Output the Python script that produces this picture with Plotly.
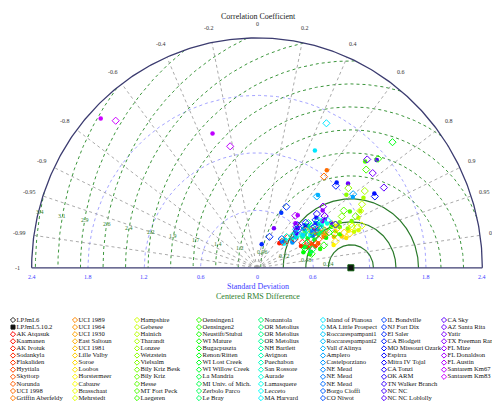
import colorsys
import numpy as np
import plotly.graph_objects as go

sites = ["AK Atqasuk", "Kaamanen", "AK Ivotuk", "Sodankyla", "Flakaliden", "Hyytiala", "Skyttorp", "Norunda",
         "UCI 1998", "Griffin Aberfeldy",
         "UCI 1989", "UCI 1964", "UCI 1930", "East Saltoun", "UCI 1981", "Lille Valby", "Soroe", "Loobos",
         "Horstermeer", "Cabauw", "Brasschaat", "Mehrstedt",
         "Hampshire", "Gebesee", "Hainich", "Tharandt", "Lonzee", "Wetzstein", "Vielsalm", "Bily Kriz Besk",
         "Bily Kriz", "Hesse", "MT Fort Peck", "Laegeren",
         "Oensingen1", "Oensingen2", "Neustift/Stubai", "WI Mature", "Bugacpuszta", "Renon/Ritten", "WI Lost Creek",
         "WI Willow Creek", "La Mandria", "MI Univ. of Mich.", "Zerbolo Parco", "Le Bray",
         "Nonantola", "OR Metolius", "OR Metolius", "OR Metolius", "NH Bartlett", "Avignon", "Puechabon",
         "San Rossore", "Aurade", "Lamasquere", "Lecceto", "MA Harvard",
         "Island of Pianosa", "MA Little Prospect", "Roccarespampani1", "Roccarespampani2", "Vall d'Alinya",
         "Amplero", "Castelporziano", "NE Mead", "NE Mead", "NE Mead", "Borgo Cioffi", "CO Niwot",
         "IL Bondville", "NJ Fort Dix", "El Saler", "CA Blodgett", "MO Missouri Ozark", "Espirra", "Mitra IV Tojal",
         "CA Tonzi", "OK ARM", "TN Walker Branch", "NC NC", "NC NC Loblolly",
         "CA Sky", "AZ Santa Rita", "Yatir", "TX Freeman Ranch", "FL Mize", "FL Donaldson", "FL Austin",
         "Santarem Km67", "Santarem Km83"]

# LPJmL6 (open diamonds)
std6 = [0.45, 0.50, 0.38, 0.55, 0.62, 0.68, 0.60, 0.72, 1.19, 0.80,
        0.75, 0.82, 0.70, 0.90, 0.65, 1.00, 0.95, 1.05, 0.88, 1.10, 0.92, 1.20,
        1.25, 1.15, 1.30, 1.40, 1.10, 1.28, 1.05, 1.18, 0.95, 1.10, 1.55, 0.90,
        1.72, 0.75, 0.60, 0.85, 0.55, 1.95, 0.70, 0.65, 0.58, 0.80, 0.62, 0.72,
        0.78, 0.66, 0.72, 0.60, 0.82, 0.50, 0.45, 0.55, 0.90, 0.85, 0.40, 0.68,
        1.68, 0.62, 0.55, 0.58, 0.98, 1.28, 0.48, 0.72, 0.78, 0.70, 0.40, 0.66,
        0.80, 0.71, 0.35, 1.20, 1.46, 0.70, 0.62, 0.85, 0.90, 0.75, 0.58, 0.95,
        1.59, 1.63, 1.58, 0.90, 0.95, 0.60, 0.68, 1.30, 2.15]
corr6 = [0.72, 0.80, 0.70, 0.88, 0.92, 0.93, 0.90, 0.91, 0.60, 0.90,
         0.85, 0.88, 0.83, 0.92, 0.80, 0.93, 0.90, 0.94, 0.95, 0.92, 0.87, 0.93,
         0.88, 0.93, 0.86, 0.82, 0.91, 0.76, 0.86, 0.89, 0.88, 0.84, 0.75, 0.92,
         0.75, 0.95, 0.97, 0.90, 0.93, 0.74, 0.88, 0.85, 0.90, 0.86, 0.95, 0.80,
         0.86, 0.78, 0.76, 0.82, 0.80, 0.75, 0.70, 0.78, 0.84, 0.82, 0.72, 0.84,
         0.44, 0.80, 0.76, 0.72, 0.65, 0.80, 0.80, 0.82, 0.84, 0.86, 0.66, 0.76,
         0.78, 0.44, 0.38, 0.70, 0.86, 0.74, 0.70, 0.75, 0.80, 0.82, 0.74, 0.88,
         0.85, 0.72, 0.78, 0.80, 0.74, 0.70, 0.60, -0.22, -0.70]
# LPJmL5.10.2 (filled circles)
std5 = [0.40, 0.48, 0.35, 0.52, 0.58, 0.66, 0.63, 0.70, 1.26, 0.78,
        0.72, 0.80, 0.68, 0.88, 0.62, 0.96, 0.92, 1.00, 0.85, 1.05, 0.95, 1.15,
        1.20, 1.10, 1.25, 1.35, 1.05, 1.22, 1.00, 1.12, 0.98, 1.15, 1.60, 0.95,
        1.70, 0.70, 0.58, 0.80, 0.52, 0.90, 0.68, 0.62, 0.55, 0.78, 0.60, 0.70,
        0.75, 0.64, 0.70, 0.58, 0.80, 0.48, 0.42, 0.53, 0.88, 0.82, 0.38, 0.66,
        1.37, 0.60, 0.52, 0.56, 1.00, 1.26, 0.46, 0.70, 0.76, 0.68, 0.38, 0.64,
        0.78, 0.63, 0.25, 1.23, 1.47, 0.68, 0.60, 0.82, 0.88, 0.72, 0.55, 0.92,
        1.70, 1.31, 0.45, 0.85, 0.92, 0.62, 0.70, 1.48, 2.28]
corr5 = [0.75, 0.78, 0.68, 0.90, 0.93, 0.94, 0.92, 0.93, 0.59, 0.91,
         0.87, 0.90, 0.86, 0.93, 0.82, 0.94, 0.91, 0.95, 0.96, 0.93, 0.89, 0.94,
         0.90, 0.94, 0.88, 0.84, 0.92, 0.78, 0.88, 0.90, 0.90, 0.86, 0.72, 0.93,
         0.75, 0.96, 0.97, 0.92, 0.95, 0.88, 0.90, 0.87, 0.92, 0.88, 0.96, 0.83,
         0.88, 0.80, 0.78, 0.83, 0.82, 0.78, 0.72, 0.80, 0.85, 0.84, 0.75, 0.86,
         0.45, 0.82, 0.78, 0.74, 0.65, 0.81, 0.82, 0.84, 0.85, 0.87, 0.70, 0.77,
         0.80, 0.41, 0.20, 0.69, 0.85, 0.76, 0.72, 0.77, 0.82, 0.84, 0.76, 0.86,
         0.75, 0.74, 0.40, 0.82, 0.76, 0.66, 0.62, -0.32, -0.73]

corr_ticks = [-0.99, -0.95, -0.9, -0.8, -0.6, -0.4, -0.2, 0.2, 0.4, 0.6, 0.8, 0.9, 0.95, 0.99]
std_ticks = [0.6, 1.2, 1.8]
rms_ticks = [0.24, 0.48, 0.72, 0.96, 1.2, 1.44, 1.68, 1.92, 2.16, 2.4, 2.64, 2.88, 3.12, 3.36]
axis_ticks = [-2.4, -1.8, -1.2, -0.6, 0, 0.6, 1.2, 1.8, 2.4]
ref_std = 1.0
R = 2.4

SERIF = "Liberation Serif"
fig = go.Figure()

def xy(s, c):
    s = np.asarray(s, float); c = np.asarray(c, float)
    return s * c, s * np.sqrt(1 - c ** 2)

# std circles
th = np.linspace(0, np.pi, 300)
for s in std_ticks:
    fig.add_trace(go.Scatter(x=s * np.cos(th), y=s * np.sin(th), mode="lines",
                             line=dict(color="#9a9aff", width=0.9, dash="dot"), hoverinfo="skip"))
# rms circles around reference
th2 = np.linspace(0, np.pi, 600)
for i, r in enumerate(rms_ticks):
    x = ref_std + r * np.cos(th2); y = r * np.sin(th2)
    out = np.hypot(x, y) > R
    x = np.where(out, np.nan, x); y = np.where(out, np.nan, y)
    fig.add_trace(go.Scatter(x=x, y=y, mode="lines", connectgaps=False,
                             line=dict(color="#2a7a2a" if i < 3 else "#3c963c", width=1.2 if i < 3 else 1,
                                       dash="solid" if i < 3 else "dot"), hoverinfo="skip"))
    a = np.deg2rad(170)
    fig.add_annotation(x=ref_std + r * np.cos(a), y=r * np.sin(a), text=f"{r:g}" if r < 1.0 else f"{r:.1f}",
                       showarrow=False, font=dict(family=SERIF, size=6, color="#2e7d2e"))
# correlation lines
for c in corr_ticks:
    fig.add_trace(go.Scatter(x=[0, R * c], y=[0, R * np.sqrt(1 - c * c)], mode="lines",
                             line=dict(color="#a0a0a0", width=0.9, dash="dot"), hoverinfo="skip"))
for c in corr_ticks + [-1, 0, 1]:
    fig.add_annotation(x=2.55 * c, y=2.55 * np.sqrt(1 - c * c), text=f"{c:g}", showarrow=False,
                       font=dict(family=SERIF, size=6, color="#333"))
# outer arc & baseline
fig.add_trace(go.Scatter(x=R * np.cos(th), y=R * np.sin(th), mode="lines",
                         line=dict(color="#3c3c70", width=1.3), hoverinfo="skip"))
fig.add_trace(go.Scatter(x=[-R, R], y=[0, 0], mode="lines", line=dict(color="#3c3c70", width=1.3), hoverinfo="skip"))
for t in axis_ticks:
    fig.add_annotation(x=t, y=-0.1, text=f"{abs(t):g}", showarrow=False,
                       font=dict(family=SERIF, size=6, color="#3d3dff"))

colors = []
for i in range(len(sites)):
    r, g, b = colorsys.hsv_to_rgb(0.8 * i / (len(sites) - 1), 1, 1)
    colors.append(f"rgb({int(r*255)},{int(g*255)},{int(b*255)})")

x6, y6 = xy(std6, corr6)
x5, y5 = xy(std5, corr5)
fig.add_trace(go.Scatter(x=x5, y=y5, mode="markers", marker=dict(symbol="circle", size=4.5, color=colors),
                         cliponaxis=False))
fig.add_trace(go.Scatter(x=x6, y=y6, mode="markers",
                         marker=dict(symbol="diamond-open", size=5.5, color=colors, line=dict(width=1)),
                         cliponaxis=False))
fig.add_trace(go.Scatter(x=[ref_std], y=[0], mode="markers",
                         marker=dict(symbol="square", size=6, color="#111", line=dict(color="#0a5a0a", width=1)),
                         cliponaxis=False))

# legend block
names = ["LPJmL6", "LPJmL5.10.2"] + sites
syms = ["diamond-open", "square"] + ["diamond-open"] * len(sites)
lcols = ["#222", "#111"] + colors
col_x = [5, 67, 129, 191, 253, 315, 376, 436]
lx, ly = [], []
for k in range(len(names)):
    lx.append(col_x[k // 12]); ly.append(312 + 7.1 * (k % 12))
fig.add_trace(go.Scatter(x=lx, y=ly, xaxis="x2", yaxis="y2", mode="markers+text", text=names,
                         textposition="middle right", textfont=dict(family=SERIF, size=6.6, color="#111"),
                         marker=dict(symbol=syms, size=4, color=lcols, line=dict(width=1, color=lcols)),
                         cliponaxis=False))

fig.add_annotation(x=250, y=8, xref="x2", yref="y2", text="Correlation Coefficient", showarrow=False,
                   font=dict(family=SERIF, size=8, color="#222"))
fig.add_annotation(x=250, y=278, xref="x2", yref="y2", text="Standard Deviation", showarrow=False,
                   font=dict(family=SERIF, size=8, color="#3d3dff"))
fig.add_annotation(x=250, y=288, xref="x2", yref="y2", text="Centered RMS Difference", showarrow=False,
                   font=dict(family=SERIF, size=8, color="#2e7d2e"))

fig.update_layout(
    width=500, height=402, margin=dict(l=0, r=0, t=0, b=0), showlegend=False,
    plot_bgcolor="rgba(0,0,0,0)", paper_bgcolor="white",
    xaxis=dict(range=[-2.62, 2.62], domain=[0.006, 0.99], visible=False),
    yaxis=dict(range=[-0.15, 2.62], domain=[0.318, 0.978], visible=False),
    xaxis2=dict(range=[0, 500], domain=[0, 1], visible=False, anchor="y2"),
    yaxis2=dict(range=[402, 0], domain=[0, 1], visible=False, anchor="x2"),
)
fig.write_html("out.html")
